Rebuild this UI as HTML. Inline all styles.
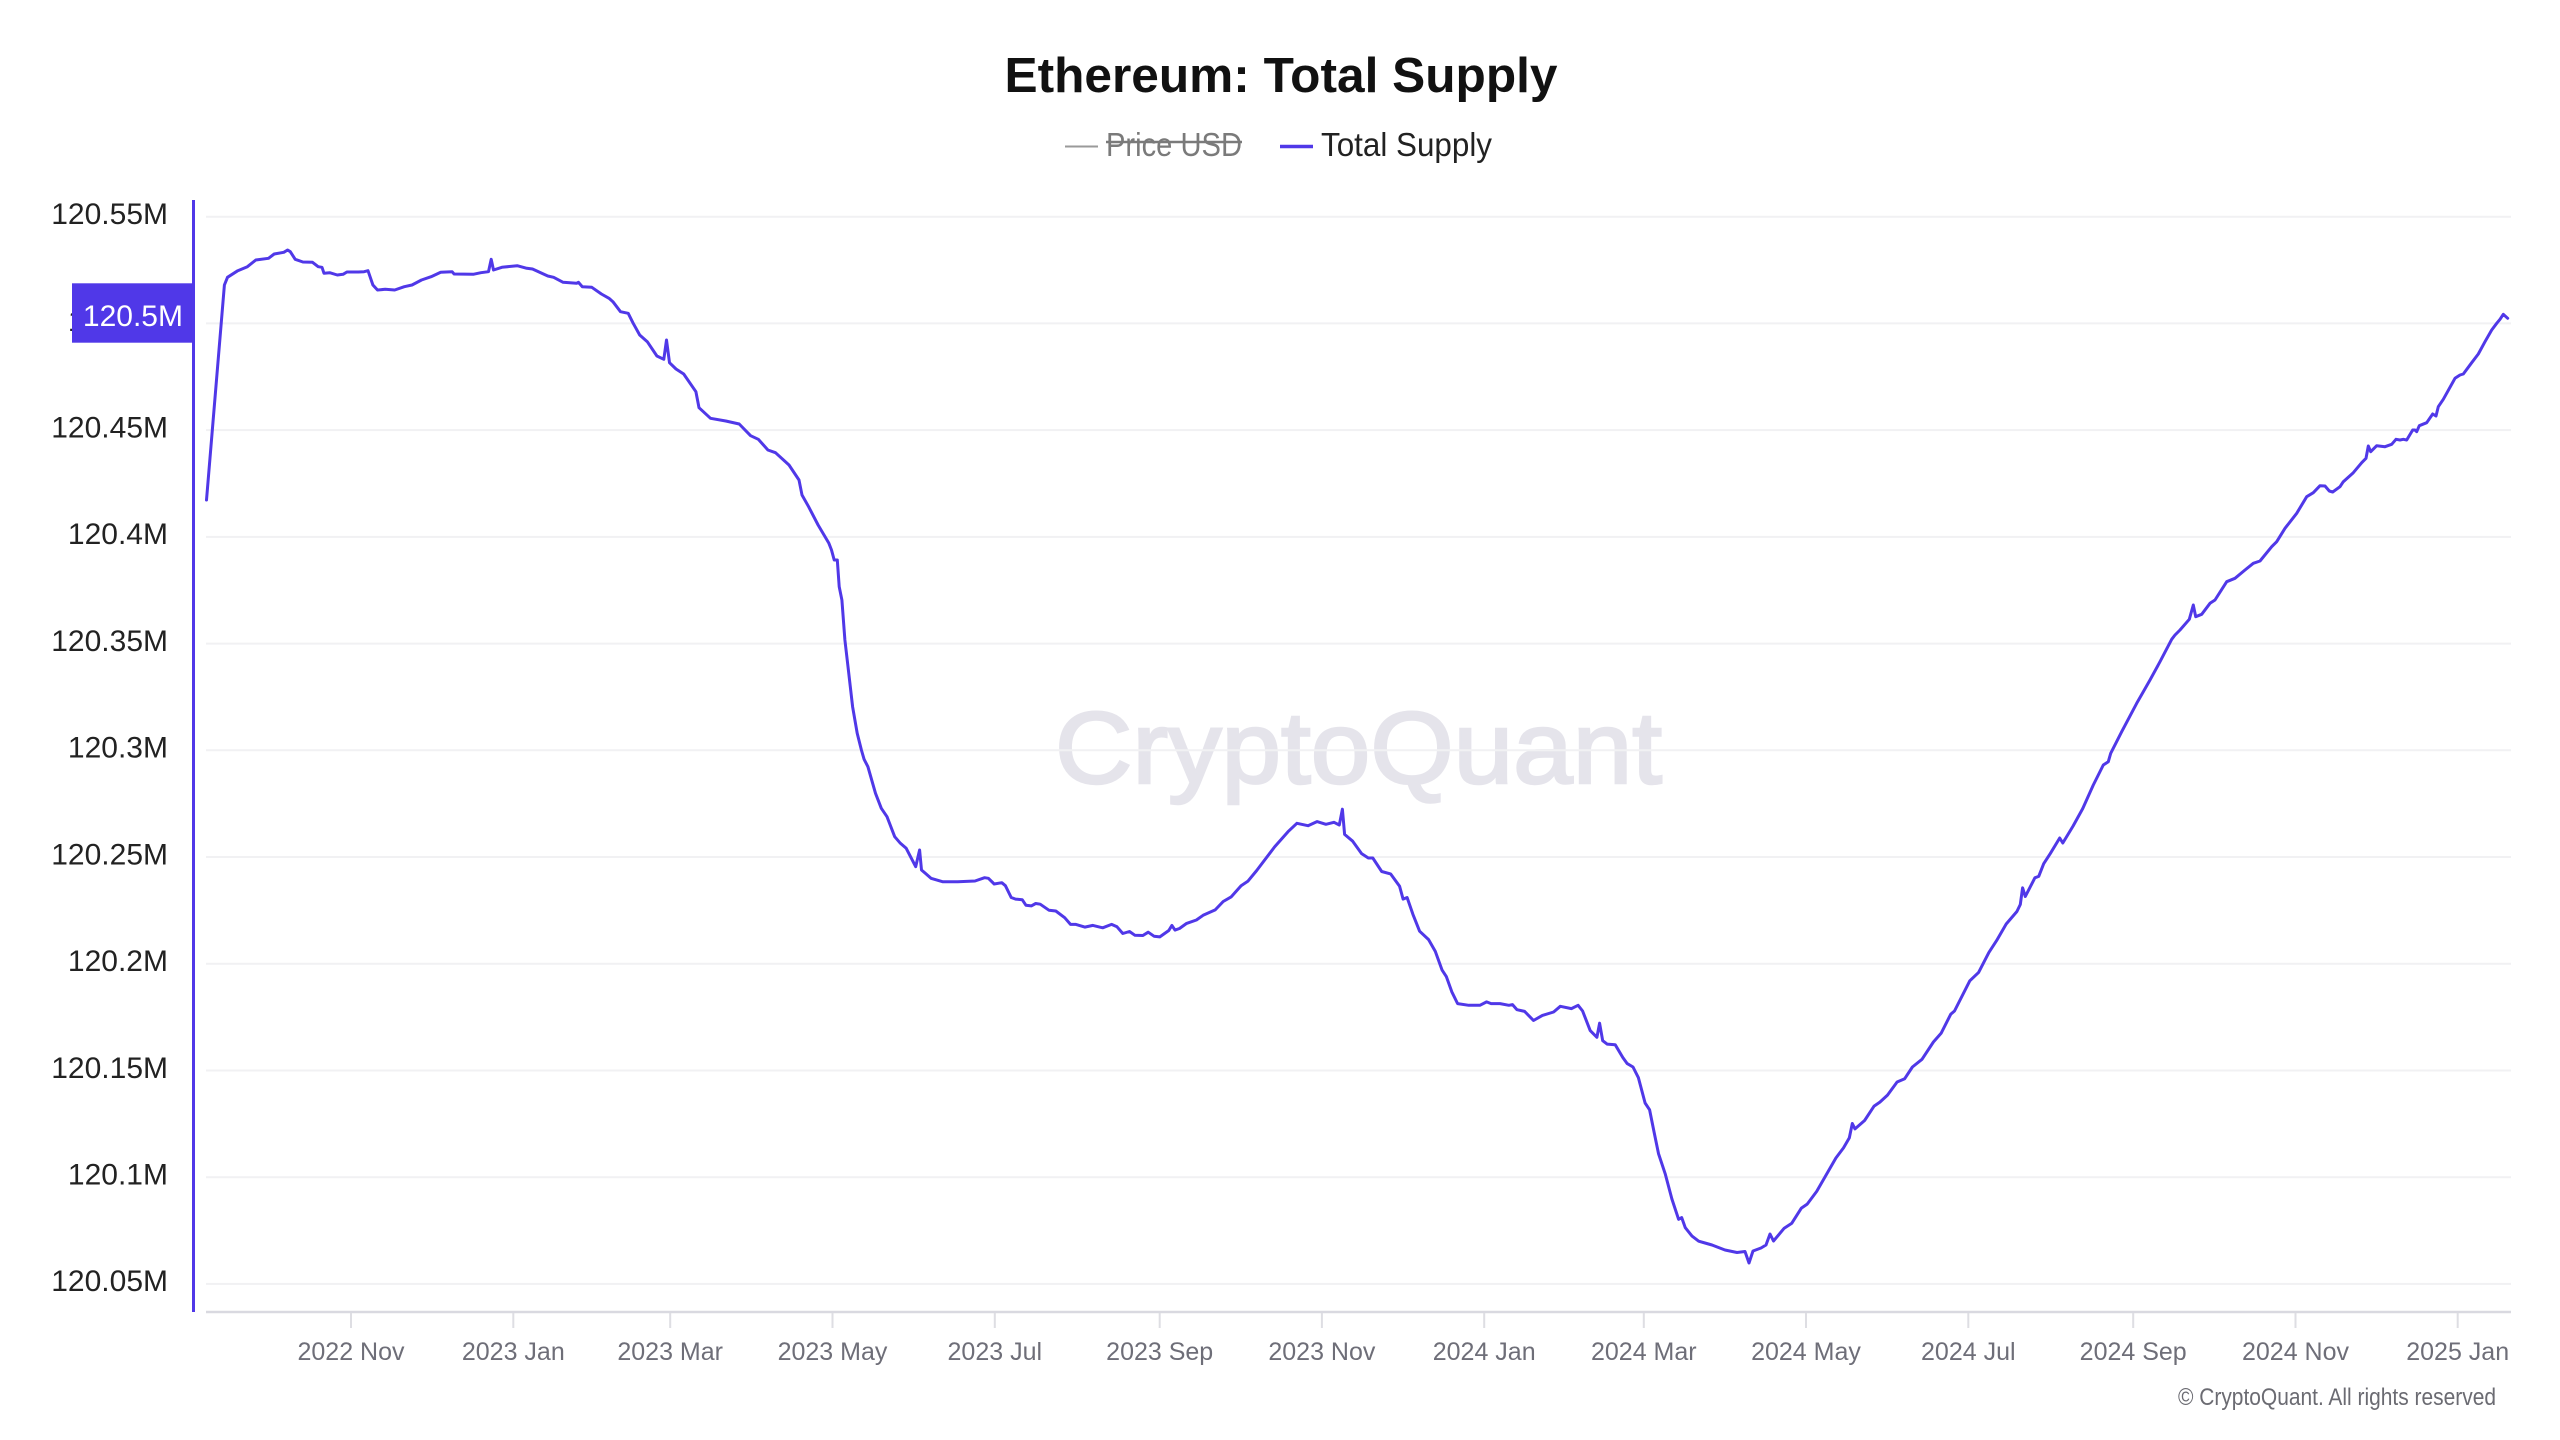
<!DOCTYPE html>
<html>
<head>
<meta charset="utf-8">
<style>
html,body{margin:0;padding:0;background:#fff;}
svg{display:block;}
text{font-family:"Liberation Sans",Arial,sans-serif;}
</style>
</head>
<body>
<svg width="2560" height="1440" viewBox="0 0 2560 1440" xmlns="http://www.w3.org/2000/svg">
<rect x="0" y="0" width="2560" height="1440" fill="#ffffff"/>

<!-- Title -->
<text x="1281" y="92" font-size="49" font-weight="bold" fill="#111111" text-anchor="middle" textLength="553" lengthAdjust="spacingAndGlyphs">Ethereum: Total Supply</text>

<!-- Legend -->
<line x1="1065" y1="146.5" x2="1098" y2="146.5" stroke="#9a9a9a" stroke-width="2"/>
<text x="1106" y="156" font-size="33" fill="#7a7a7a" textLength="136" lengthAdjust="spacingAndGlyphs">Price USD</text>
<line x1="1106" y1="142" x2="1242" y2="142" stroke="#7a7a7a" stroke-width="2.5"/>
<line x1="1280" y1="146.5" x2="1313" y2="146.5" stroke="#5038E8" stroke-width="3.5"/>
<text x="1321" y="156" font-size="33" fill="#222222" textLength="171" lengthAdjust="spacingAndGlyphs">Total Supply</text>

<!-- Watermark -->
<text x="1055" y="783" font-size="102" fill="#e5e4eb" stroke="#e5e4eb" stroke-width="2.5" textLength="607" lengthAdjust="spacingAndGlyphs">CryptoQuant</text>

<!-- Gridlines -->
<g stroke="#f1f1f3" stroke-width="2">
<line x1="206" y1="216.7" x2="2511" y2="216.7"/>
<line x1="206" y1="323.4" x2="2511" y2="323.4"/>
<line x1="206" y1="430.1" x2="2511" y2="430.1"/>
<line x1="206" y1="536.9" x2="2511" y2="536.9"/>
<line x1="206" y1="643.6" x2="2511" y2="643.6"/>
<line x1="206" y1="750.3" x2="2511" y2="750.3"/>
<line x1="206" y1="857.0" x2="2511" y2="857.0"/>
<line x1="206" y1="963.7" x2="2511" y2="963.7"/>
<line x1="206" y1="1070.5" x2="2511" y2="1070.5"/>
<line x1="206" y1="1177.2" x2="2511" y2="1177.2"/>
<line x1="206" y1="1283.9" x2="2511" y2="1283.9"/>
</g>

<!-- X axis -->
<line x1="206" y1="1312" x2="2511" y2="1312" stroke="#d9d9e0" stroke-width="2.5"/>
<g stroke="#dedee3" stroke-width="2">
<line x1="351" y1="1313" x2="351" y2="1328"/>
<line x1="513.3" y1="1313" x2="513.3" y2="1328"/>
<line x1="670.2" y1="1313" x2="670.2" y2="1328"/>
<line x1="832.5" y1="1313" x2="832.5" y2="1328"/>
<line x1="994.8" y1="1313" x2="994.8" y2="1328"/>
<line x1="1159.7" y1="1313" x2="1159.7" y2="1328"/>
<line x1="1321.9" y1="1313" x2="1321.9" y2="1328"/>
<line x1="1484.2" y1="1313" x2="1484.2" y2="1328"/>
<line x1="1643.8" y1="1313" x2="1643.8" y2="1328"/>
<line x1="1806" y1="1313" x2="1806" y2="1328"/>
<line x1="1968.3" y1="1313" x2="1968.3" y2="1328"/>
<line x1="2133.2" y1="1313" x2="2133.2" y2="1328"/>
<line x1="2295.5" y1="1313" x2="2295.5" y2="1328"/>
<line x1="2457.7" y1="1313" x2="2457.7" y2="1328"/>
</g>
<g font-size="25" fill="#6e6e78" text-anchor="middle">
<text x="351" y="1360">2022 Nov</text>
<text x="513.3" y="1360">2023 Jan</text>
<text x="670.2" y="1360">2023 Mar</text>
<text x="832.5" y="1360">2023 May</text>
<text x="994.8" y="1360">2023 Jul</text>
<text x="1159.7" y="1360">2023 Sep</text>
<text x="1321.9" y="1360">2023 Nov</text>
<text x="1484.2" y="1360">2024 Jan</text>
<text x="1643.8" y="1360">2024 Mar</text>
<text x="1806" y="1360">2024 May</text>
<text x="1968.3" y="1360">2024 Jul</text>
<text x="2133.2" y="1360">2024 Sep</text>
<text x="2295.5" y="1360">2024 Nov</text>
<text x="2457.7" y="1360">2025 Jan</text>
</g>

<!-- Y labels -->
<g font-size="30" fill="#222222" text-anchor="end">
<text x="168" y="224">120.55M</text>
<text x="168" y="331">120.5M</text>
<text x="168" y="437.5">120.45M</text>
<text x="168" y="544">120.4M</text>
<text x="168" y="651">120.35M</text>
<text x="168" y="757.5">120.3M</text>
<text x="168" y="864.5">120.25M</text>
<text x="168" y="971">120.2M</text>
<text x="168" y="1078">120.15M</text>
<text x="168" y="1184.5">120.1M</text>
<text x="168" y="1291">120.05M</text>
</g>

<!-- Y axis line -->
<line x1="193.5" y1="200" x2="193.5" y2="1312" stroke="#5038E8" stroke-width="3"/>

<!-- Highlight label -->
<rect x="72" y="283.3" width="122" height="59.4" fill="#5038E8"/>
<text x="183" y="326" font-size="30" fill="#ffffff" text-anchor="end">120.5M</text>

<!-- Series -->
<polyline fill="none" stroke="#5038E8" stroke-width="3" stroke-linejoin="round" stroke-linecap="round" points="
206.5,500 224.4,285 227.5,277.3 237.8,270.7 247.4,266.7 255.8,260 268.5,258.3 274.2,254 283.8,252.3 287.6,250 290.3,251.7 295.2,259.3 302.9,262 312.5,262.3 318.2,266.7 322,267.3 324,273.3 329.7,272.7 337.3,275 343.1,274.3 346.9,272 358.4,272 364.1,271.7 368,270.7 372.9,285 377.5,290 385.2,289.3 394.7,290 404.3,286.7 412,285 421.5,280 431.1,276.7 440.7,272.3 452.1,271.7 454.1,274 473.2,274.3 480.9,272.7 488.5,271.7 491.2,259.3 493.5,270 501.9,267.3 517.2,265.7 526.8,268.3 532.5,269 547.8,276 553.6,277.3 563.1,282.3 576.5,283.3 578.4,282.3 582.3,286.7 591.8,287.3 601.4,294 609,298.3 612.9,301.7 620.5,311.7 628.2,313.3 633.2,323.3 639.7,335 647.3,341.7 656.9,356 663.8,359.3 666.5,340 669.5,362.7 676,369 683.7,374 695.9,391.7 699,407.7 710.5,418.3 725.8,421 739.2,424 750.6,435.7 758.3,439.3 767.9,450 775.5,452.7 789,465
799,480 802,495 808.6,506.7 818.1,525 828.9,543.3 831.5,550 834.2,560 837.3,560 839.2,586.7 841.9,600 844.9,640 848,666.7 852.6,706.7 857.2,733.3 861.4,750 864.1,759.3 867.9,766.7 875.5,793.3 881.3,808.3 887,816.7 894.7,836.7 900.4,843.3 906.2,848.3 915.7,866.7 919.6,850 921.5,870 925.3,873.3 931,878.3 942.5,881.7 957.8,881.7 975,881 984.6,877.7 988.4,878.3 994.2,884 1001.8,882.7
1005.4,885.7 1011.2,897.5 1015.6,899.1 1022.3,899.8 1025.9,905.2 1031.3,905.9 1035.7,903.5 1040.2,904.2 1049.1,910.3 1055.8,911 1064.7,917.7 1070.5,924.4 1075.9,924.4 1084.8,927.1 1092.9,925.4 1102.7,927.8 1111.6,924.4 1117,926.8 1122.8,933.5 1129.5,931.5 1134.8,935.2 1142.9,935.5 1148.2,932.2 1154,936.2 1159.8,936.9 1168.8,930.5 1171.9,925.4 1175,930.1 1179.5,928.5 1186.6,923.4 1196.4,920 1203.1,915.3 1215.2,909.9 1223.2,901.5 1231.3,896.8 1241.1,885.7 1247.8,881.3 1256.7,870.5 1274.6,846.9 1288,831.7 1296.9,823.3 1308,825.7 1317,821.6 1325.9,824.3 1334,822.3 1339.3,825 1342.4,809.2 1344.6,834.4 1352.7,841.2 1361.6,853.6 1368.3,858 1372.8,858 1381.7,871.5 1390.6,873.9 1399.6,886.3 1403.1,899.1 1407.1,897.5 1412.9,914.3 1419.6,931.2 1428.6,939.6 1435.3,951.4 1442,969.9 1446.4,976.7 1451.8,991.8 1457.6,1003.6 1468.8,1005.3 1479.9,1005.3 1486.6,1001.9 1491.1,1003.6 1500,1003.6 1508.9,1005.3 1512.5,1004.6 1517,1009.7 1524.6,1011.4 1533.5,1020.5 1542.4,1015.4 1553.6,1012 1560.3,1006.3 1571.4,1008.6 1578.1,1005.3 1582.6,1011 1590.2,1030.6 1596.9,1037.3 1599.6,1023.2 1602.7,1040.7 1607.1,1044.1 1615.2,1044.7 1622.8,1057.5 1627.2,1063.6 1633,1067 1638.4,1077.7 1645.1,1103 1649.6,1109.8 1654,1131.7 1658.5,1153.6 1665.2,1173.8 1671.9,1199 1678.6,1219.3 1681.7,1217.6 1685.3,1227.7 1692,1236.1 1698.7,1241.2
1705,1243 1712,1245 1725,1250 1737,1252.5 1745,1251.5 1749,1263 1753,1251 1761,1248 1766,1245 1770,1234 1773.5,1241 1784.2,1228.2 1791.8,1223.2 1801.4,1208.1 1807.2,1204.1 1816.7,1191.4 1835.9,1158 1843.5,1147.9 1849.3,1137.9 1852.3,1123.5 1855,1128.9 1864.6,1120.5 1874.1,1106.1 1879.9,1102.1 1887.5,1095.1 1897.1,1082 1904.7,1078.7 1912.4,1067 1922,1059.3 1933.4,1042 1941.1,1033.3 1950.7,1014.3 1954.5,1011 1969.8,980.8 1978.6,972.4 1988.9,952.4 1996.6,940.6 2006.2,924 2016.9,911.5 2020.3,904.5 2022.6,887.8 2025.3,896.5 2034.9,877.8 2038.7,876.4 2043.7,863.7 2050.2,853.7 2059.7,838 2062.8,843 2073.1,826 2082.7,808.6
2093.3,785 2103.3,765 2108.3,761.7 2110.7,753.3 2121.7,731.7 2136.7,703.3 2143.3,691.7 2150,680 2160,661.7 2171.7,639.3 2175,635 2180,630 2189.3,619.3 2193.3,605 2195.7,616.7 2201.7,614.3 2210,603.3 2215,600 2226.7,581.7 2235,578.3 2245,570 2253.3,563.3 2260,561 2271.7,546.7 2276.7,541.7 2285,528.3 2296.7,513.3 2306.7,496.7 2313.3,492.7 2320,485.7 2325,486 2329.3,491 2332.7,492 2340,486.7 2343.3,481.7 2353.3,472.7 2361.7,462.7 2366,458.3 2368.3,446 2370.7,451.7 2376.7,445.7 2385,446.7 2391.7,444.3 2396,439.3 2400,440 2403.3,439.3 2406.7,440 2412.7,430 2415,430 2416.7,431.7 2419.3,425.7 2426.7,422.7 2432.7,414 2436,416 2438.3,406.7 2443.3,399.3 2455,378.3 2460,375 2463.3,374 2471.7,362.7 2478.3,354 2485,341.7 2491.7,330 2496.7,323.3 2500,319.3 2503.3,314.3 2507.7,318.3"/>

<!-- Copyright -->
<text x="2178" y="1405" font-size="24" fill="#6b6b72" textLength="318" lengthAdjust="spacingAndGlyphs">© CryptoQuant. All rights reserved</text>
</svg>
</body>
</html>
